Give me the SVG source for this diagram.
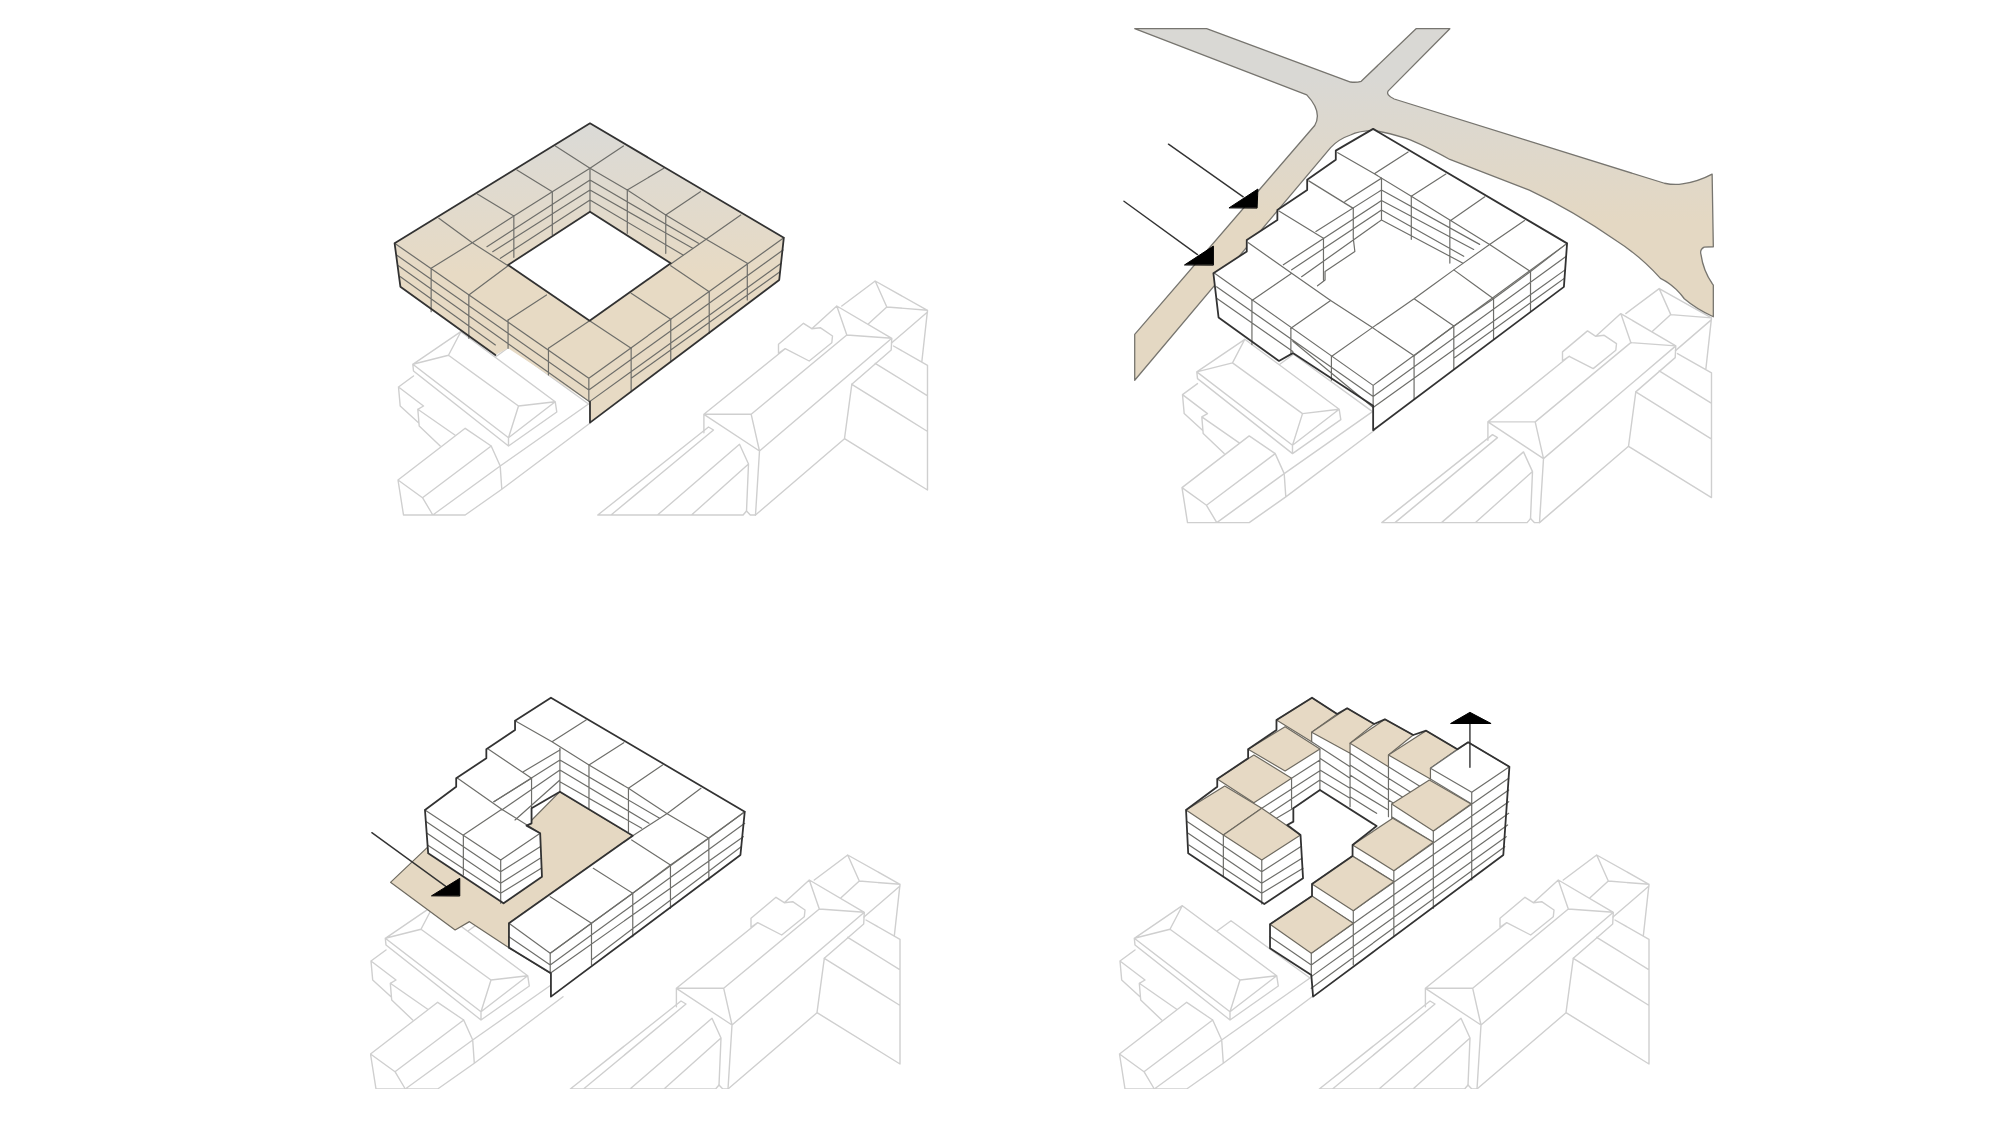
<svg xmlns="http://www.w3.org/2000/svg" xmlns:xlink="http://www.w3.org/1999/xlink" width="2000" height="1125" viewBox="0 0 2000 1125">
<style>
path,polygon{vector-effect:non-scaling-stroke;stroke-linejoin:round;stroke-linecap:round}
.c{fill:none;stroke:#cfcfcf;stroke-width:1.4}
.i{fill:none;stroke:#6e6e6a;stroke-width:1.2}
.o{fill:none;stroke:#333;stroke-width:1.8}
.w{fill:#fff;stroke:none}
.t{fill:#e6d9c4;stroke:#6e6a60;stroke-width:1.2}
.k{fill:#000;stroke:#000;stroke-width:1}
.a{fill:none;stroke:#333;stroke-width:1.4}
</style>
<defs>
<filter id="soft" x="0" y="0" width="100%" height="100%"><feGaussianBlur stdDeviation="0.4"/></filter>
<linearGradient id="g1" gradientUnits="userSpaceOnUse" x1="0" y1="90" x2="0" y2="520"><stop offset="0" stop-color="#dbdad6"/><stop offset="1" stop-color="#e7dac4"/></linearGradient>
<linearGradient id="g2" gradientUnits="userSpaceOnUse" x1="0" y1="200" x2="0" y2="620"><stop offset="0" stop-color="#d9d8d4"/><stop offset="1" stop-color="#e4d8c3"/></linearGradient>
<g id="ctx">
<path class="c" d="M1134.3 938.3L1182.3 905.7L1276.7 975.7L1278.3 986L1230 1020L1135 945ZM1182.3 905.7L1170 929.3L1134.3 938.3M1170 929.3L1240 980L1276.7 975.7M1240 980L1230 1011.7L1276.7 975.7M1134.3 938.3L1230 1011.7V1020M1217.3 930.7L1231 920.7L1310 978"/>
<path class="c" d="M1135 950L1120 961L1121.7 980L1140 996.7M1120 961L1145 980L1139.3 983.3L1140.7 1000L1161.7 1020M1139.3 983.3L1176.7 1009.3"/>
<path class="c" d="M1119.5 1054L1186.7 1002.3L1212.7 1020L1221.7 1040L1223.3 1063.3L1186.7 1089L1125 1089ZM1119.5 1054L1144 1071.7L1212.7 1020M1144 1071.7L1154.3 1089L1221.7 1040M1223.3 1063.3L1312 996.7M1221.7 1040L1310 978"/>
<path class="c" d="M1319.3 1089L1430 1001L1435 1004L1332.5 1089M1319.3 1089L1464.6 1089L1468 1085L1470 1038L1461 1018.3L1379 1089M1470 1038L1413 1089"/>
<path class="c" d="M1425.4 1006.7V988.3L1472.7 988.3L1481 1025L1477 1089L1471.8 1089L1468 1085M1425.4 988.3L1481 1025M1425.4 988.3L1506.7 922.7M1472.7 988.3L1568.3 909M1481 1025L1613.3 912.3L1612.7 924L1573.3 958.3M1558.3 880L1568.3 909L1613.3 912.3L1558.3 880L1533.3 902.7M1500 927.3V918.3L1525 897.3L1533.3 902.7L1541.7 901.7L1554 910L1553.3 916.7L1530.7 935L1506.7 922.7Z"/>
<path class="c" d="M1563.3 880L1596.7 855L1649 884.3L1608.3 881L1596.7 855M1608.3 881L1590 897.7M1649 884.3L1643.3 936M1649 886L1613 917M1615 920L1649 939.3V1064L1566 1012.7L1573.3 958.3L1648.3 1005M1566 1012.7L1477 1089M1596.7 937.3L1648.3 969.3"/>
</g>
</defs>
<rect width="2000" height="1125" fill="#fff"/>
<g filter="url(#soft)">
<g id="panel-1">
<use xlink:href="#ctx" href="#ctx" transform="translate(-721.5,-574)"/>
<g transform="translate(360,100) scale(.3846,.3333)">
<path fill="url(#g1)" fill-rule="evenodd" d="M598 70L1102 413L1090 540L598 968L595 905L385 745L352 765L105 560L90 430ZM598 335L385 495L597 662L808 490Z"/>
<path class="i" d="M508 138L598 205L685 138M408 210L500 275L598 205L695 270L790 205M305 282L400 348L500 275M695 270L795 345L885 275M205 355L292 428L400 348M795 345L900 418L990 345M292 428L385 497M900 418L808 492M292 428L185 505M385 497L283 585M485 585L385 660M597 662L490 745M900 418L1007 490M808 497L908 575M705 580L808 658M597 662L705 745"/>
<path class="i" d="M598 205V335M500 275V405M400 348V472M695 270V400M795 345V460M598 240L330 440M598 270L345 455M598 300L365 475M598 240L880 430M598 270L865 445M598 300L840 465"/>
<path class="i" d="M90 430L595 835L1102 413M95 465L595 870L1100 450M100 497L597 905L1095 490M105 530L352 735M705 835L1092 515M185 505V635M283 585V715M385 660V745M490 745V825M595 835V905M1007 490V600M908 575V700M808 658V785M705 745V875"/>
<path class="o" d="M90 430L598 70L1102 413L1090 540L598 968V905M90 430L105 560L352 765M598 335L385 495L597 662L808 490Z"/>
</g>
</g>

<g id="panel-2">
<use xlink:href="#ctx" href="#ctx" transform="translate(62.5,-566.4)"/>
<g transform="translate(1120,10) scale(.3974,.3397)">
<path id="road" fill="url(#g2)" stroke="#77756f" stroke-width="1.3" style="vector-effect:non-scaling-stroke" d="M37 55L218 55L580 212Q595 214 607 210L745 55L830 55L675 238Q668 250 690 262L1370 510Q1395 516 1415 512Q1455 505 1490 483L1493 697L1470 698Q1458 705 1462 720Q1468 770 1493 810L1493 903Q1450 880 1420 850Q1395 810 1360 790Q1310 725 1250 680Q1140 590 1030 530L830 440Q760 395 720 378Q670 360 640 355Q600 355 580 368Q550 380 530 405L37 1090L37 955L490 340Q510 300 470 250Z"/>
<path class="w" d="M637 350L1125 687L1117 815L637 1237L637 1165L435 1010L400 1033L248 905L235 775L319 711V677L396 618V589L471 530V500L543 441V414Z"/>
<path class="i" d="M548 420L640 482L733 548L832 620L930 690L1033 770M725 418L640 482M820 483L733 548M918 550L832 620M1018 620L930 690L840 765L740 850L635 935L532 1020M475 503L587 584M400 592L512 672M323 685L432 775L530 855L635 935L740 1018M658 495L566 564M432 775L332 855M530 855L430 937M740 850L840 930L940 850L840 765L940 850L1033 770L1125 687M740 1018L840 930"/>
<path class="i" d="M658 495V618M733 548V675M830 620V745M658 530L905 690M658 561L890 705M658 589L865 725M658 618L862 745M658 530L493 652M658 561L411 750M658 589L432 765M658 618L457 785M587 584V672L591 711L516 770V795L497 812M512 672V795"/>
<path class="i" d="M238 775L637 1105L1125 687M243 815L637 1138L1123 725M245 850L435 1005M435 975L637 1170L1120 765M840 1025L1118 790M332 855V985M430 937V1012M532 1020V1090M637 1105V1165M740 1018V1146M840 930V1058M940 850V970M1033 770V888"/>
<path class="o" d="M637 350L1125 687L1117 815L637 1237V1165L435 1010L400 1033L248 905L235 775L319 711V677L396 618V589L471 530V500L543 441V414Z"/>
</g>
</g>

<g id="panel-3">
<use xlink:href="#ctx" href="#ctx" transform="translate(-749,0)"/>
<g transform="translate(360,680) scale(.3589,.3333)">
<polygon class="t" style="fill:#e5d8c2" points="190,500 85,607 265,750 305,725 415,803 415,730 760,467 557,335 465,435 505,590 400,670"/>
<path class="w" d="M532 53L1072 395L1060 525L532 950V880L415 803V730L760 467L557 335L478 385V430L464 437L502 460L507 590L400 670L190 520L181 390L268 320V295L352 235V208L432 150V122Z"/>
<path class="i" d="M432 122L535 185L638 255L748 325L857 402L972 475L1072 395M630 120L535 185M735 188L638 255M843 255L748 325M950 325L857 400L760 467M358 208L478 295M557 210L455 275M272 295L395 388M478 295L373 365M395 388L288 465M181 390L392 540L502 460L395 388M757 480L865 555L972 475M650 565L760 640L865 555M530 650L645 730L760 640M415 730L530 820L645 730"/>
<path class="i" d="M288 465V585M392 540V670M185 425L392 575L502 500M187 460L392 610L502 535M188 495L392 640L505 565"/>
<path class="i" d="M478 295V385M557 205V335M557 240L373 365M557 270L395 390M557 300L432 420M557 240L835 415M557 270L805 430M557 305L785 445M638 255V385M748 325V455"/>
<path class="i" d="M530 820L1072 395M415 770L530 855L1072 430M415 803L530 880L1068 470M645 840L1062 500M972 475V600M865 555V685M760 640V770M645 730V855M530 820V880"/>
<path class="o" d="M532 53L1072 395L1060 525L532 950V880L415 803V730L760 467L557 335L478 385V430L464 437L502 460L507 590L400 670L190 520L181 390L268 320V295L352 235V208L432 150V122Z"/>
<path class="a" d="M33 458L240 620"/>
<polygon class="k" points="200,647 278,595 278,647"/>
</g>
</g>

<g id="panel-4">
<use xlink:href="#ctx" href="#ctx"/>
<g transform="translate(1120,680) scale(.3589,.3333)">
<path class="w" d="M525 60L1085 260L1068 525L538 950L533 885L418 805V733L535 648V612L648 528V495L715 438L557 330L483 385V425L466 435L503 465L510 595L402 672L190 520L184 390L271 320V297L357 235V208L436 150V120Z"/>
<path class="i" d="M557 207V330M641 220V380M748 260V410M557 235L641 295M557 270L641 325M557 300L641 355M534 185L641 260M641 220L748 295M641 255L748 330M641 285L748 360M641 320L748 390M641 350L715 400M748 260L860 335M748 295L830 350M748 325L800 360M748 360L770 375M557 240L478 295M557 272L395 385M557 300L418 400M483 385L436 415M478 295V385"/>
<path class="i" d="M288 465V590M395 540V672M188 425L395 575L503 500M190 460L395 610L507 535M192 495L395 640L510 565"/>
<path class="i" d="M1083 295L873 453M1083 330L763 572M1083 365L650 692M1083 400L533 820M1080 435L533 855M1076 470L533 890M1072 500L533 925M980 337V600M873 453V685M763 572V770M650 692V855M533 820V885M418 770L533 855M535 650L650 730M648 528L763 605M757 410L873 487M865 297L980 372M757 372V415"/>
<g id="tops">
<polygon class="t" points="184,390 292,318 395,385 288,465"/>
<polygon class="t" points="288,465 395,385 503,465 395,540"/>
<polygon class="t" points="271,297 373,225 478,295 373,368"/>
<polygon class="t" points="357,208 460,140 557,207 460,273"/>
<polygon class="t" points="436,120 535,53 605,102 534,157 534,185"/>
<polygon class="t" points="534,157 633,85 708,132 641,190 641,220"/>
<polygon class="t" points="641,190 738,118 817,165 748,225 748,260"/>
<polygon class="t" points="748,225 853,152 940,208 865,265 865,297"/>
<polygon class="i" style="fill:#fff" points="865,265 970,187 1085,260 980,337"/>
<polygon class="t" points="757,372 862,300 978,372 873,453"/>
<polygon class="t" points="648,495 760,415 873,487 763,572"/>
<polygon class="t" points="535,612 647,528 763,605 650,692"/>
<polygon class="t" points="418,733 535,648 650,730 533,820"/>
</g>
<path class="o" d="M436 120L535 53L605 102L633 85L708 132L738 118L817 165L853 152L940 208L970 187L1085 260L1068 525L538 950L533 885L418 805V733L535 648V612L648 528V495L715 438L557 330L483 385V425L466 435L503 465L510 595L402 672L190 520L184 390L271 320V297L357 235V208L436 150Z"/>
<path class="a" d="M975 262V125"/>
<polygon class="k" points="922,130 975,97 1033,130"/>
</g>
</g>

<g id="connectors" transform="translate(1120,10) scale(.3974,.3397)">
<path class="a" d="M122 395L310 550M10 563L195 720"/>
<polygon class="k" points="275,582 347,527 345,582"/>
<polygon class="k" points="163,750 235,695 235,750"/>
</g>
</g>
</svg>
